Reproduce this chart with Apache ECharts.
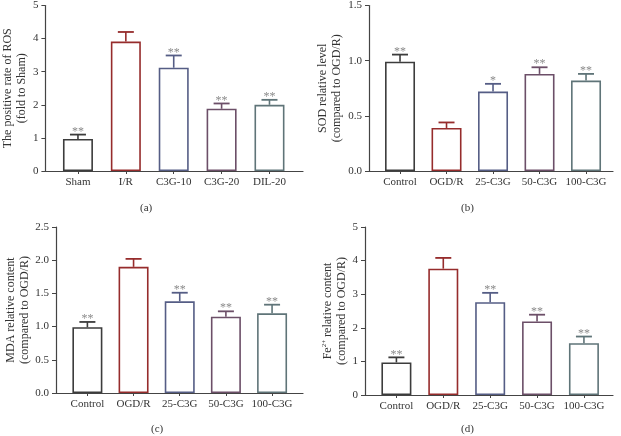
<!DOCTYPE html>
<html>
<head>
<meta charset="utf-8">
<script src="https://cdn.jsdelivr.net/npm/echarts@6/dist/echarts.min.js"></script>
<style>
html, body { margin: 0; padding: 0; background: #fff; }
#main { width: 621px; height: 436px; }
</style>
</head>
<body>
<div id="main"></div>
<script>
'use strict';
// group names
var rosGroups = ['Sham', 'I/R', 'C3G-10', 'C3G-20', 'DIL-20'];
var ogdGroups = ['Control', 'OGD/R', '25-C3G', '50-C3G', '100-C3G'];

// (a) ROS
var rosMean = [0.97, 3.91, 3.12, 1.88, 2.00];
var rosErr = [0.13, 0.29, 0.37, 0.16, 0.15];
var rosMark = ['**', '', '**', '**', '**'];
// (b) SOD
var sodMean = [0.99, 0.39, 0.72, 0.88, 0.82];
var sodErr = [0.065, 0.05, 0.07, 0.06, 0.06];
var sodMark = ['**', '', '*', '**', '**'];
// (c) MDA
var mdaMean = [0.99, 1.90, 1.38, 1.15, 1.20];
var mdaErr = [0.08, 0.12, 0.13, 0.08, 0.13];
var mdaMark = ['**', '', '**', '**', '**'];
// (d) Fe2+
var feMean = [0.97, 3.76, 2.76, 2.19, 1.54];
var feErr = [0.15, 0.32, 0.28, 0.20, 0.20];
var feMark = ['**', '', '**', '**', '**'];

var colors = ['#3c3c3c', '#962c2c', '#555d85', '#6c4f68', '#5f7478'];
var serif = '"Liberation Serif", "DejaVu Serif", serif';
var textColor = '#333';

var grids = [], xAxes = [], yAxes = [], series = [], titles = [];

function addPanel(idx, groups, mean, err, mark, box, xRange, yMax, yInterval, digits, yName, nameGap, sub) {
    grids.push({left: box[0], top: box[1], width: box[2], height: box[3]});
    xAxes.push({
        type: 'value', gridIndex: idx, min: xRange[0], max: xRange[1],
        splitLine: {show: false},
        axisLine: {onZero: false, lineStyle: {color: '#444', width: 1.2}},
        axisTick: {customValues: [0, 1, 2, 3, 4], length: 3, lineStyle: {color: '#444'}},
        axisLabel: {
            customValues: [0, 1, 2, 3, 4],
            formatter: function (v) { return groups[Math.round(v)]; },
            color: textColor, fontFamily: serif, fontSize: 11, margin: 6
        }
    });
    yAxes.push({
        type: 'value', gridIndex: idx, min: 0, max: yMax, interval: yInterval,
        name: yName, nameLocation: 'middle', nameGap: nameGap,
        nameTextStyle: {color: textColor, fontFamily: serif, fontSize: 12, lineHeight: 14},
        splitLine: {show: false},
        axisLine: {show: true, onZero: false, lineStyle: {color: '#444', width: 1.2}},
        axisTick: {show: true, length: 4, lineStyle: {color: '#444'}},
        axisLabel: {
            formatter: function (v) { return v.toFixed(digits); },
            color: textColor, fontFamily: serif, fontSize: 11, margin: 7
        }
    });
    series.push({
        type: 'bar', xAxisIndex: idx, yAxisIndex: idx, barWidth: 30,
        data: mean.map(function (v, i) {
            return {value: [i, v], itemStyle: {borderColor: colors[i]}};
        }),
        itemStyle: {color: '#fff', borderWidth: 1.6},
        silent: true
    });
    series.push({
        type: 'custom', xAxisIndex: idx, yAxisIndex: idx, z: 3, silent: true,
        data: mean.map(function (v, i) { return [i, v, err[i]]; }),
        renderItem: function (params, api) {
            var i = api.value(0), v = api.value(1), e = api.value(2);
            var base = api.coord([i, v]);
            var top = api.coord([i, v + e]);
            var c = colors[params.dataIndex];
            var kids = [
                {type: 'line', shape: {x1: base[0], y1: base[1], x2: top[0], y2: top[1]}, style: {stroke: c, lineWidth: 1.6}},
                {type: 'line', shape: {x1: top[0] - 8, y1: top[1], x2: top[0] + 8, y2: top[1]}, style: {stroke: c, lineWidth: 1.8}}
            ];
            var m = mark[params.dataIndex];
            if (m) {
                kids.push({type: 'text', x: top[0], y: top[1] + 3,
                    style: {text: m, textAlign: 'center', textVerticalAlign: 'bottom', fill: '#8a8a8a', font: '12px ' + serif}});
            }
            return {type: 'group', children: kids};
        }
    });
    titles.push({text: sub[0], left: sub[1], top: sub[2], textStyle: {color: textColor, fontFamily: serif, fontSize: 11, fontWeight: 'normal'}});
}

addPanel(0, rosGroups, rosMean, rosErr, rosMark, [43, 4, 260, 167], [-0.68, 4.7], 5, 1, 0,
    'The positive rate of ROS\n(fold to Sham)', 13, ['(a)', 135, 198]);
addPanel(1, ogdGroups, sodMean, sodErr, sodMark, [369, 4, 244, 167], [-0.667, 4.58], 1.5, 0.5, 1,
    'SOD relative level\n(compared to OGD/R)', 25, ['(b)', 456, 198]);
addPanel(2, ogdGroups, mdaMean, mdaErr, mdaMark, [56, 227, 247, 166], [-0.68, 4.67], 2.5, 0.5, 1,
    'MDA relative content\n(compared to OGD/R)', 24, ['(c)', 146, 419]);
addPanel(3, ogdGroups, feMean, feErr, feMark, [365, 227, 248, 168], [-0.67, 4.62], 5, 1, 0,
    'Fe{sup|2+} relative content\n(compared to OGD/R)', 15, ['(d)', 456, 419]);

yAxes[3].nameTextStyle.rich = {sup: {fontSize: 7, fontFamily: serif, color: textColor, verticalAlign: 'top', lineHeight: 14}};

var myChart = echarts.init(document.getElementById('main'), null, {renderer: 'canvas'});
myChart.setOption({
    animation: false,
    backgroundColor: '#fff',
    title: titles,
    grid: grids,
    xAxis: xAxes,
    yAxis: yAxes,
    series: series
});
</script>
</body>
</html>
